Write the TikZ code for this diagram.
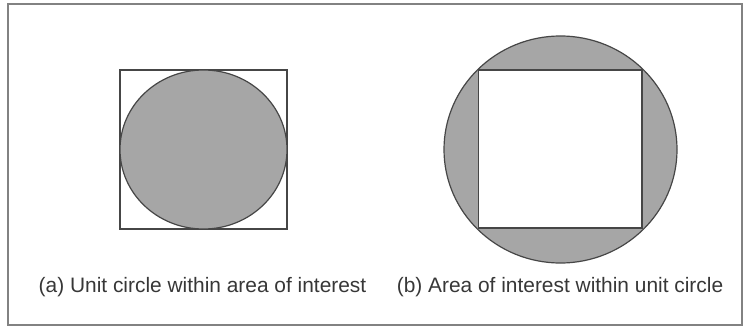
\documentclass[tikz,border=0pt]{standalone}
\usepackage{fontspec}
\setmainfont{Liberation Sans}
\definecolor{shadegray}{RGB}{166,166,166}
\definecolor{edgegray}{RGB}{70,70,70}
\definecolor{framegray}{RGB}{130,130,130}
\definecolor{textgray}{RGB}{55,55,55}
\tikzset{
    shaded/.style={fill=shadegray, draw=edgegray, line width=1.2pt},
    outline/.style={draw=edgegray, line width=1.1pt},
    caption/.style={text=textgray, font=\fontsize{20.9}{25}\selectfont, inner sep=0pt}
}
\begin{document}
\begin{tikzpicture}[x=1pt, y=-1pt]
    \useasboundingbox (0,0) rectangle (743,326);

    % Outer frame
    \draw[framegray, line width=1.6pt] (8,4) rectangle (742,325);

    % (a) Unit circle inside the square
    \draw[outline] (120,70) rectangle (287,229);
    \draw[shaded] (203.5,149.5) ellipse (83.5 and 79.5);

    % (b) Square inside the unit circle
    \draw[shaded] (560.5,149.5) ellipse (116.5 and 113.5);
    \draw[outline, fill=white] (478.5,70) rectangle (642,228);

    % Captions
    \node[caption] (capA) at (202.5,287) {(a) Unit circle within area of interest};
    \node[caption] (capB) at (560,287) {(b) Area of interest within unit circle};
\end{tikzpicture}
\end{document}
